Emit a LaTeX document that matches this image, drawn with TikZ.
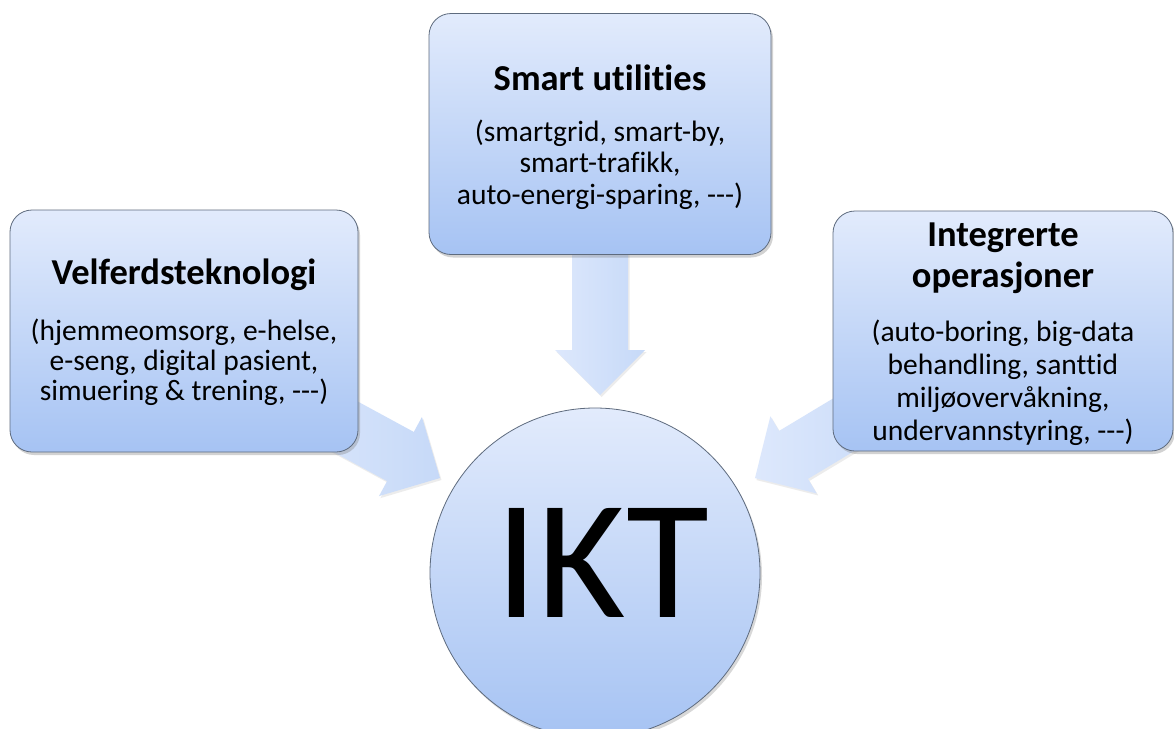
\documentclass[tikz,border=0pt]{standalone}
\usepackage{fontspec}
\setmainfont{Carlito}[Ligatures={NoCommon}]
\usetikzlibrary{shadows}
\definecolor{boxtop}{HTML}{E2EBFC}
\definecolor{boxbot}{HTML}{A6C3F3}
\definecolor{boxline}{HTML}{5E6B7E}
\definecolor{arrA}{HTML}{DDE8FC}
\definecolor{arrB}{HTML}{C6D9F8}
\tikzset{
  boxnode/.style={draw=boxline, line width=0.8pt, rounded corners=22pt,
    top color=boxtop, bottom color=boxbot, inner sep=0pt,
    drop shadow={opacity=0.35, shadow xshift=2pt, shadow yshift=-3pt}},
  ttl/.style={font=\fontsize{36.5}{41}\selectfont\bfseries, align=center, inner sep=0pt},
  body/.style={font=\fontsize{29.5}{#1}\selectfont, align=center, inner sep=0pt},
  body/.default=31.5,
  arrowfill/.style={left color=arrA, right color=arrB, draw=none,
    drop shadow={opacity=0.15, shadow xshift=1.5pt, shadow yshift=-2pt}}
}
\newcommand\blockarr[4]{% name, start coordinate name, rotate, length
  \begin{scope}[shift={(#2)}, rotate=#3]
    \path[arrowfill] (0,-28) -- (#4-45,-28) -- (#4-45,-45) -- (#4,0)
      -- (#4-45,45) -- (#4-45,28) -- (0,28) -- cycle;
    \coordinate (#1) at (#4,0);
  \end{scope}}
\newcommand\dashes{-{}-{}-}
\begin{document}
\begin{tikzpicture}[x=1pt,y=-1pt]
\useasboundingbox[fill=white] (0,0) rectangle (1174,728);
% arrow start points (hidden behind boxes)
\coordinate (sTop) at (600,200);
\coordinate (sLeft) at (290.6,396.9);
\coordinate (sRight) at (900.7,390.5);
% block arrows
\blockarr{tipTop}{sTop}{-90}{195}
\blockarr{tipLeft}{sLeft}{-28.5}{170}
\blockarr{tipRight}{sRight}{-149}{170}
% boxes
\node[boxnode, minimum width=342pt, minimum height=241pt] (top) at (600,134) {};
\node[boxnode, minimum width=348pt, minimum height=242pt] (left) at (184,331) {};
\node[boxnode, minimum width=340pt, minimum height=240pt] (right) at (1003,331) {};
% circle
\node[circle, draw=boxline, line width=0.8pt, top color=boxtop, bottom color=boxbot,
  minimum size=330pt, inner sep=0pt,
  drop shadow={opacity=0.3, shadow xshift=2pt, shadow yshift=-3pt}] (ikt) at (595,573) {};
\node[font=\fontsize{170}{170}\selectfont, inner sep=0pt] (iktlabel) at (602,563) {IKT};
% texts
\node[ttl] (topT) at (600,78) {Smart utilities};
\node[body=31.5] (topB) at (600,164.5) {(smartgrid, smart-by,\\smart-trafikk,\\auto-energi-sparing, \dashes)};
\node[ttl] (leftT) at (184,275) {Velferdsteknologi};
\node[body=30] (leftB) at (184,362) {(hjemmeomsorg, e-helse,\\e-seng, digital pasient,\\simuering \& trening, \dashes)};
\node[ttl] (rightT) at (1003,258) {Integrerte\\operasjoner};
\node[body=33] (rightB) at (1003,383) {(auto-boring, big-data\\behandling, santtid\\miljøovervåkning,\\undervannstyring, \dashes)};
\end{tikzpicture}
\end{document}
